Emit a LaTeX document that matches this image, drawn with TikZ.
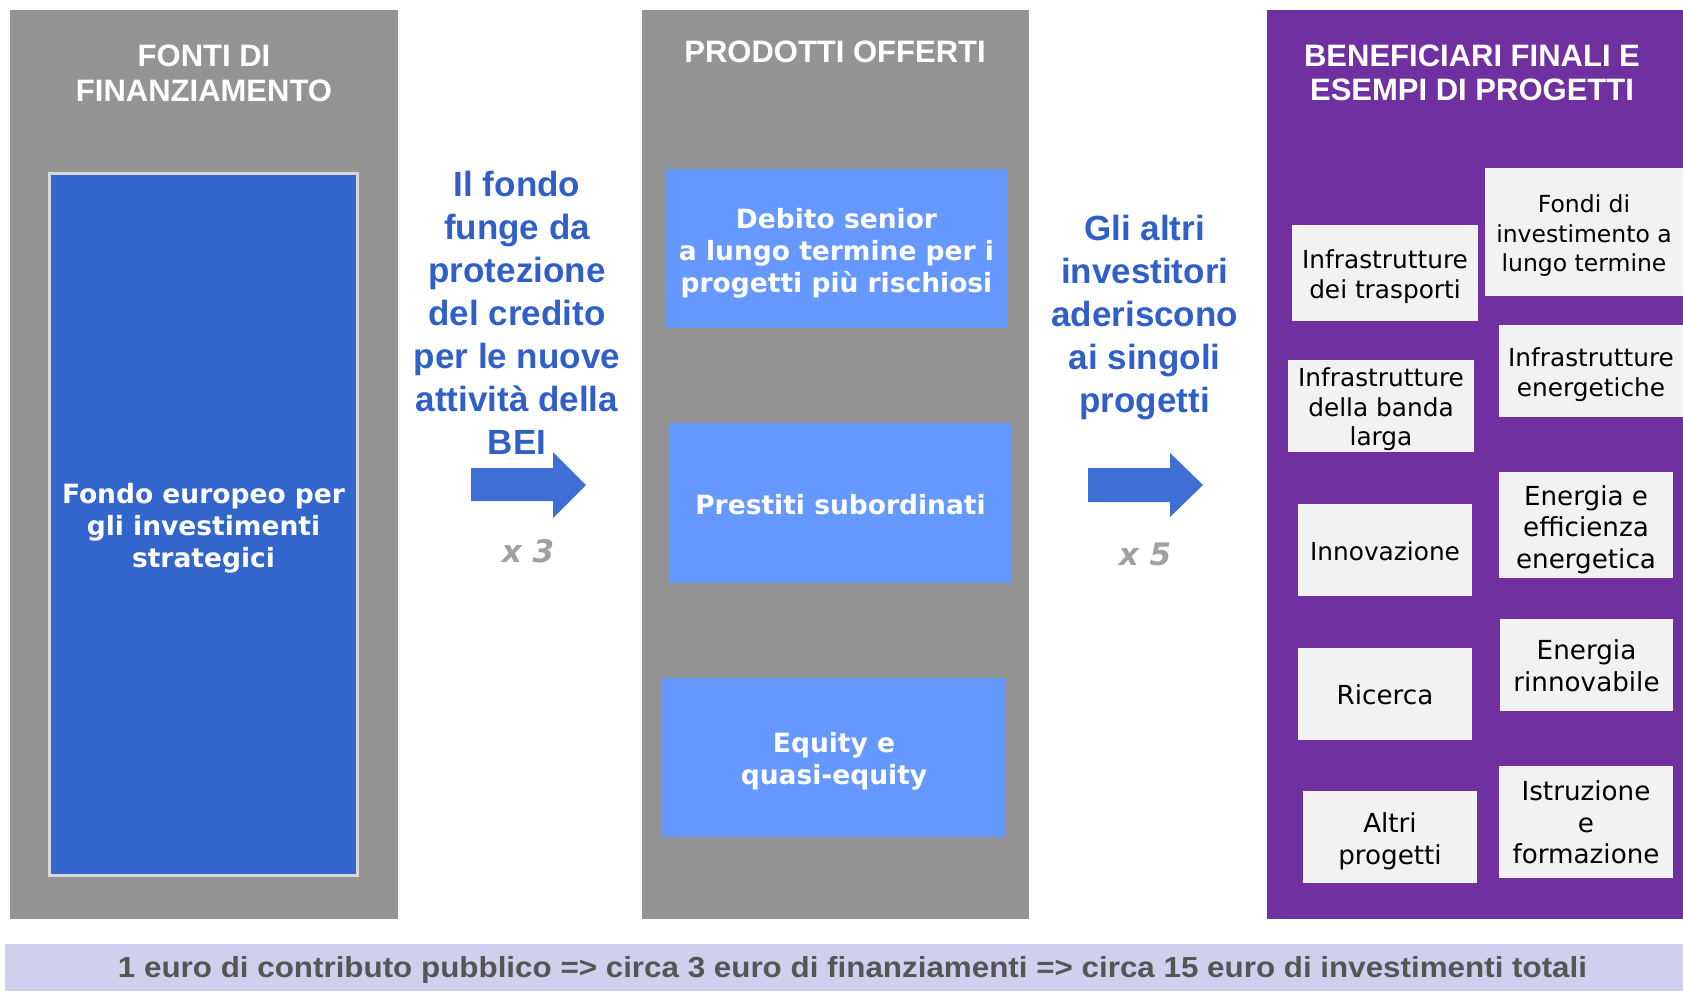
\documentclass[tikz,border=0pt]{standalone}
\usepackage{fontspec}
\usepackage{graphicx}
\newfontfamily\libsans{Liberation Sans}
\newfontfamily\dejavu{DejaVu Sans}
\newcommand\fsz[2]{\fontsize{#1}{#2}\selectfont}
% lower the text block inside its box, without changing the box size
\newcommand\lowtxt[2]{\raisebox{-#1}[\height][\depth]{\begin{tabular}{@{}c@{}}#2\end{tabular}}}
\definecolor{panelgray}{HTML}{949494}
\definecolor{fundblue}{HTML}{3266CD}
\definecolor{fundborder}{HTML}{D9D9D9}
\definecolor{prodblue}{HTML}{6699FF}
\definecolor{benpurple}{HTML}{7030A0}
\definecolor{boxwhite}{HTML}{F2F2F2}
\definecolor{bluetxt}{HTML}{2F5FC7}
\definecolor{arrowblue}{HTML}{3F6FD4}
\definecolor{multgray}{HTML}{A0A0A0}
\definecolor{barfill}{HTML}{CFCFEE}
\definecolor{bartxt}{HTML}{555555}
\tikzset{
  panel/.style={fill=panelgray, inner sep=0pt},
  head/.style={text=white, font=\libsans\bfseries\fsz{31}{35}, align=center, inner sep=0pt},
  prodbox/.style={fill=prodblue, text=white, font=\dejavu\bfseries\fsz{26.5}{32}, align=center, inner sep=0pt},
  wbox/.style={fill=boxwhite, text=black, align=center, inner sep=0pt},
  small/.style={font=\dejavu\fsz{24.8}{29.5}},
  large/.style={font=\dejavu\fsz{26.2}{31.5}},
  bluetext/.style={text=bluetxt, font=\libsans\bfseries\fsz{35}{43.1}, align=center, inner sep=0pt},
  mult/.style={text=multgray, font=\dejavu\bfseries\itshape\fsz{31}{35}, inner sep=0pt},
  bigarrow/.style={fill=arrowblue}
}
\begin{document}
\begin{tikzpicture}[x=1pt,y=-1pt]
\useasboundingbox (0,0) rectangle (1683,991);
% panels
\node[panel, minimum width=388, minimum height=909] (panL) at (204,464.5) {};
\node[panel, minimum width=387, minimum height=909] (panM) at (835.5,464.5) {};
\node[fill=benpurple, inner sep=0pt, minimum width=416, minimum height=909] (panR) at (1475,464.5) {};
% headers
\node[head] (hL) at (204,73) {FONTI DI\\FINANZIAMENTO};
\node[head] (hM) at (835,52) {PRODOTTI OFFERTI};
\node[head, font=\libsans\bfseries\fsz{31}{34}] (hR) at (1472,72.5) {BENEFICIARI FINALI E\\ESEMPI DI PROGETTI};
% fund box
\node[fill=fundblue, draw=fundborder, line width=3pt, text=white, font=\dejavu\bfseries\fsz{26.5}{32}, align=center, inner sep=0pt, minimum width=308, minimum height=702] (fund) at (203.5,524.5) {\lowtxt{4.8pt}{Fondo europeo per\\gli investimenti\\strategici}};
% product boxes
\node[prodbox, minimum width=343, minimum height=159] (debito) at (836.5,248.5) {\lowtxt{5.1pt}{Debito senior\\a lungo termine per i\\progetti più rischiosi}};
\node[prodbox, minimum width=343, minimum height=160] (prestiti) at (840.5,503) {\lowtxt{5.2pt}{Prestiti subordinati}};
\node[prodbox, minimum width=344, minimum height=159] (equity) at (834,757.5) {\lowtxt{4.1pt}{Equity e\\quasi-equity}};
% blue texts
\node[bluetext] (t1) at (517,313) {Il fondo\\funge da\\protezione\\del credito\\per le nuove\\attività della\\BEI};
\node[bluetext] (t2) at (1144.7,317.8) {Gli altri\\investitori\\aderiscono\\ai singoli\\progetti};
% arrows
\fill[bigarrow] (471,468) -- (553,468) -- (553,452) -- (586,485) -- (553,518) -- (553,501) -- (471,501) -- cycle;
\fill[bigarrow] (1088,468) -- (1170,468) -- (1170,453) -- (1203,485) -- (1170,517) -- (1170,502) -- (1088,502) -- cycle;
\node[mult] (x3) at (528,551) {x 3};
\node[mult] (x5) at (1145,554.5) {x 5};
% beneficiary boxes
\node[wbox, small, minimum width=186, minimum height=96] (trasp) at (1385,273) {\lowtxt{4.5pt}{Infrastrutture\\dei trasporti}};
\node[wbox, font=\dejavu\fsz{23.5}{29.5}, minimum width=198, minimum height=128] (fondi) at (1584,232) {\lowtxt{4.5pt}{Fondi di\\investimento a\\lungo termine}};
\node[wbox, small, minimum width=184, minimum height=92] (energet) at (1591,371) {\lowtxt{4.5pt}{Infrastrutture\\energetiche}};
\node[wbox, small, minimum width=186, minimum height=92] (banda) at (1381,406) {\lowtxt{4.5pt}{Infrastrutture\\della banda\\larga}};
\node[wbox, small, minimum width=174, minimum height=92] (innov) at (1385,550) {\lowtxt{4.2pt}{Innovazione}};
\node[wbox, large, minimum width=174, minimum height=106] (effic) at (1586,525) {\lowtxt{5.6pt}{Energia e\\efficienza\\energetica}};
\node[wbox, large, minimum width=174, minimum height=92] (ricerca) at (1385,694) {\lowtxt{4.2pt}{Ricerca}};
\node[wbox, font=\dejavu\fsz{26.2}{32.5}, minimum width=173, minimum height=92] (rinnov) at (1586.5,665) {\lowtxt{4.2pt}{Energia\\rinnovabile}};
\node[wbox, large, minimum width=174, minimum height=92] (altri) at (1390,837) {\lowtxt{5pt}{Altri\\progetti}};
\node[wbox, large, minimum width=174, minimum height=112] (istruz) at (1586,822) {\lowtxt{3.7pt}{Istruzione\\e\\formazione}};
% bottom bar
\node[fill=barfill, inner sep=0pt, minimum width=1678, minimum height=47] (bar) at (844,967.5) {};
\node[text=bartxt, font=\libsans\bfseries\fsz{29}{32}, inner sep=0pt, anchor=base] (bartext) at (852.5,977.5) {\resizebox{1469pt}{\height}{1 euro di contributo pubblico => circa 3 euro di finanziamenti => circa 15 euro di investimenti totali}};
\end{tikzpicture}
\end{document}
